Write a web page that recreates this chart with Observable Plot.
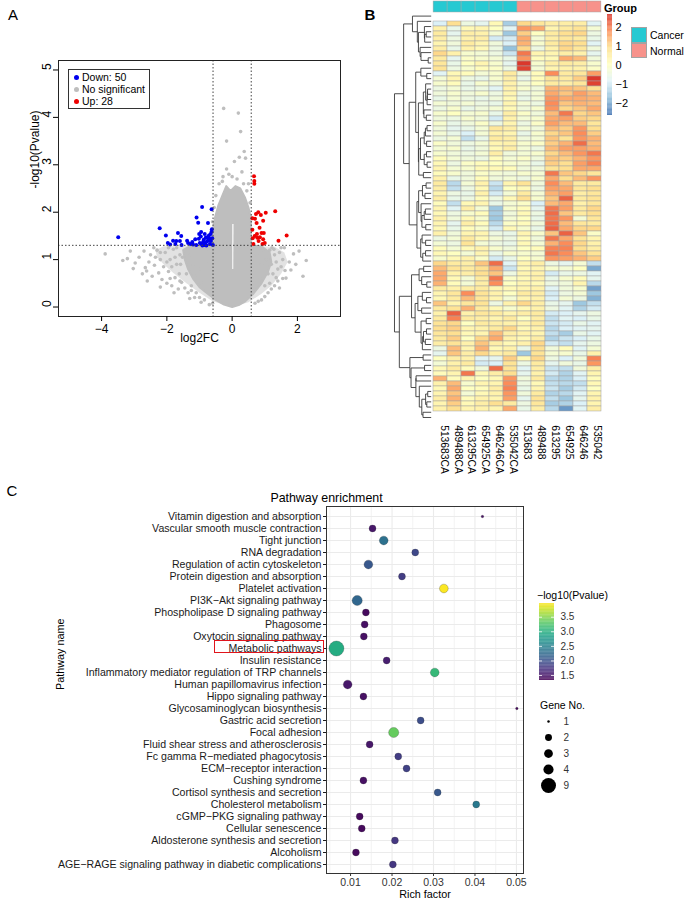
<!DOCTYPE html>
<html><head><meta charset="utf-8">
<script src="https://cdn.jsdelivr.net/npm/d3@7"></script>
<script src="https://cdn.jsdelivr.net/npm/@observablehq/plot@0.6"></script>
<style>
body{margin:0;background:#fff;}
#root{position:relative;width:685px;height:907px;font-family:"Liberation Sans",Arial,Helvetica,sans-serif;overflow:hidden;background:#fff;color:#000;}
.t{position:absolute;white-space:nowrap;line-height:1;}
</style></head><body><div id="root"></div>
<script>
// ---------------- DATA ----------------
// Panel A: volcano
const fcCut = [-0.585, 0.585];
const pCut = [1.301];
const xTicksA = [-4, -2, 0, 2];
const yTicksA = [0, 1, 2, 3, 4, 5];
const downPts = [[-3.49,1.47],[-2.22,1.66],[-2.03,1.51],[-1.97,1.35],[-1.81,1.40],[-1.74,1.33],[-1.66,1.56],[-1.60,1.39],[-1.56,1.50],[-1.38,1.40],[-1.28,1.33],[-1.22,1.37],[-1.13,1.43],[-1.09,1.89],[-1.04,1.78],[-1.01,1.54],[-0.96,1.49],[-0.92,2.11],[-0.89,1.37],[-0.85,1.31],[-0.81,1.46],[-0.77,1.38],[-0.74,1.77],[-0.71,1.51],[-0.68,1.33],[-0.63,2.06],[-0.62,1.64],[-0.61,1.45],[-0.59,1.31],[-1.02,1.44],[-0.94,1.33],[-0.87,1.42],[-0.79,1.30],[-0.73,1.41],[-0.66,1.54],[-0.63,1.59],[-0.99,1.35],[-0.84,1.54],[-0.76,1.47],[-0.69,1.44],[-0.91,1.30],[-0.82,1.35],[-0.95,1.58],[-0.65,1.39],[-1.10,1.31],[-1.20,1.32],[-1.55,1.31],[-1.71,1.39],[-1.90,1.32],[-1.35,1.35]];
const upPts = [[0.67,2.76],[0.68,2.66],[0.68,2.60],[1.32,2.02],[1.03,1.99],[0.80,2.00],[0.73,1.96],[0.88,1.94],[0.62,1.87],[0.70,1.86],[0.95,1.82],[0.75,1.77],[0.84,1.67],[0.62,1.63],[0.76,1.54],[0.90,1.56],[0.97,1.56],[1.67,1.51],[0.63,1.45],[0.77,1.46],[0.85,1.47],[0.95,1.43],[1.42,1.40],[0.65,1.33],[0.93,1.33],[1.00,1.35],[0.81,1.39],[0.69,1.50]];
const wingOutline = [[0,0],[-0.6,0.12],[-1.0,0.3],[-1.4,0.5],[-1.8,0.72],[-2.1,0.9],[-2.3,1.05],[-2.35,1.2],[-2.1,1.28],[-0.6,1.29],[0.6,1.29],[1.3,1.27],[1.6,1.15],[1.7,0.95],[1.5,0.7],[1.2,0.45],[0.9,0.28],[0.5,0.1],[0,0]];
const coreOutline = [[0.0,0.0],[-0.25,0.05],[-0.5,0.15],[-0.75,0.28],[-1.0,0.42],[-1.2,0.6],[-1.35,0.8],[-1.45,1.0],[-1.5,1.2],[-1.3,1.28],[-0.62,1.29],[-0.6,1.6],[-0.52,1.9],[-0.42,2.15],[-0.3,2.35],[-0.18,2.55],[-0.05,2.45],[0.1,2.55],[0.25,2.5],[0.4,2.3],[0.5,2.1],[0.57,1.9],[0.58,1.3],[0.9,1.28],[1.15,1.15],[1.2,0.95],[1.1,0.75],[0.9,0.5],[0.65,0.28],[0.4,0.12],[0.2,0.04],[0.0,0.0]];
const coreGap = [[0.0,0.8],[0.035,0.8],[0.045,1.75],[0.0,1.75]];
const grayPts = [[-3.89,1.12],[-3.35,0.98],[-3.21,1.02],[-3.12,1.18],[-2.97,0.93],[-3.03,0.81],[-2.66,0.83],[-2.62,0.76],[-2.55,0.95],[-2.5,1.1],[-2.45,0.65],[-2.38,0.88],[-2.3,1.2],[-2.25,0.72],[-2.2,1.0],[-2.15,0.58],[-2.1,0.85],[-2.05,1.15],[-2.0,0.5],[-1.95,0.75],[-1.9,1.0],[-1.85,0.45],[-1.8,1.22],[-1.75,0.62],[-1.7,0.9],[-1.65,0.38],[-1.6,1.1],[-1.55,0.52],[-1.62,0.7],[-1.78,0.3],[-2.2,0.42],[-2.6,0.55],[-2.75,0.7],[-2.85,1.05],[-1.45,0.4],[-1.35,0.3],[-1.25,0.45],[-1.1,0.3],[-1.0,0.2],[-0.85,0.15],[-1.9,0.6],[-2.35,1.05],[-1.7,1.25],[-1.95,1.25],[-2.4,1.25],[-2.7,1.18],[-1.58,0.9],[-1.52,1.05],[-1.15,0.2],[-1.3,0.18],[-0.95,0.1],[-0.7,0.05],[-0.6,0.08],
[-1.2,0.9],[-1.3,1.1],[-1.1,1.2],[-0.9,1.15],[-1.4,0.7],[-1.6,0.55],[-1.15,0.65],[-0.95,0.5],[-0.8,0.35],[-2.0,0.95],[-1.85,0.85],[-2.2,1.15],[-1.75,1.05],[-1.45,1.2],[-1.25,0.35],[-0.75,0.9],[-0.8,1.2],[-1.0,0.8],
[1.88,1.12],[2.27,0.98],[2.17,0.65],[1.65,0.61],[1.62,0.77],[1.55,1.0],[1.5,0.85],[1.45,1.15],[1.4,0.55],[1.35,0.95],[1.3,0.45],[1.28,1.22],[1.25,0.7],[1.3,1.1],[1.2,0.38],[1.1,0.3],[1.0,0.22],[0.9,0.15],[0.8,0.12],[0.7,0.08],[1.75,0.95],[1.95,0.9],[1.8,0.78],[1.45,0.4],[1.6,1.25],[1.5,1.25],[1.22,1.25],[2.05,1.18],[1.15,0.5],[1.35,0.62],
[0.75,1.1],[0.9,0.9],[1.05,1.0],[1.1,0.7],[0.85,0.6],[0.95,1.2],[1.2,0.9],[1.4,0.8],[1.55,0.6],[0.7,0.45],[1.0,0.45],[1.15,1.2],
[-0.26,4.19],[0.19,4.09],[0.26,3.70],[-0.17,3.50],[0.37,3.28],[0.22,3.16],[0.41,3.14],[0.07,3.07],[-0.17,2.91],[-0.28,2.75],[0.3,2.85],[0.5,2.6],[-0.4,2.6],[0.45,2.45],[-0.5,2.35],[0.0,2.75],[0.15,2.7],[-0.1,2.8],[0.55,2.2],[-0.55,2.1],[0.35,2.6],[-0.3,2.65],[-0.6,1.8],[0.55,1.9]];
const volcanoLegend = [{label:"Down:  50", color:"#0000EE"},{label:"No significant", color:"#BEBEBE"},{label:"Up:  28", color:"#EE0000"}];

// Panel B: heatmap
const samples = ["513683CA","489488CA","613295CA","654925CA","646246CA","535042CA","513683","489488","613295","654925","646246","535042"];
const groups = ["Cancer","Cancer","Cancer","Cancer","Cancer","Cancer","Normal","Normal","Normal","Normal","Normal","Normal"];
const groupLevels = ["Cancer","Normal"];
const groupColors = ["#26C9D2","#F7928B"];
const heatTicks = [2, 1, 0, -1, -2];
const heatRange = [-2.63, 2.68];
const rdylbu = ["#4575B4","#91BFDB","#E0F3F8","#FFFFBF","#FEE090","#FC8D59","#D73027"];
const heatRows = [
[-0.9,0.9,-0.5,-0.7,0.2,-1.5,1.0,0.7,0.5,0.5,0.5,-0.8],
[0.4,-0.6,0.2,0.3,0.0,-0.8,1.7,1.5,0.3,0.6,0.8,-0.3],
[0.6,-0.7,0.5,0.4,-0.3,-1.6,1.1,0.0,0.6,0.9,1.0,-0.5],
[0.5,-0.5,0.4,0.5,-1.0,-1.0,1.5,-0.3,0.5,0.7,0.6,-0.6],
[0.3,-0.4,0.6,0.3,-0.4,-0.9,1.4,-0.2,0.6,1.0,0.9,-0.8],
[0.5,-0.6,0.4,0.2,-0.5,-1.7,1.0,-0.5,0.4,1.0,0.7,-0.4],
[1.0,0.4,-0.2,-0.3,-0.5,-1.1,2.0,0.3,0.3,0.5,0.4,-0.7],
[0.6,-0.7,-0.1,-0.2,-0.3,-0.6,1.7,0.1,0.2,1.5,1.3,-0.4],
[0.7,-0.6,0.0,0.3,-0.2,-0.7,2.6,-0.2,0.5,0.6,0.5,-0.2],
[0.8,-0.5,-0.2,0.1,-0.1,-0.5,2.5,-0.3,0.3,0.4,0.4,-0.1],
[-0.8,0.2,0.1,-0.3,-0.2,0.6,-0.4,0.1,1.8,0.6,0.7,1.6],
[-0.3,0.3,-0.5,-0.6,-0.2,0.5,-0.6,0.1,0.8,0.6,1.1,2.6],
[-0.2,0.1,-0.6,-0.2,-0.4,0.4,-0.3,0.0,0.6,0.5,0.7,2.5],
[-0.5,-0.3,-0.6,-0.5,-0.8,0.4,-0.2,-0.4,1.4,1.3,1.2,0.9],
[-0.4,-0.2,-0.4,-0.2,-0.5,0.3,-0.5,-0.3,1.5,1.2,1.6,1.3],
[-0.6,-0.3,-0.5,-0.6,-0.4,0.2,-0.6,-0.3,1.7,1.5,1.5,1.4],
[-0.3,-0.4,-0.3,-0.5,-0.6,0.3,-0.3,-0.5,1.8,1.2,1.4,1.3],
[-0.5,-0.2,-0.6,-0.4,-0.3,0.2,-0.4,-0.2,1.7,1.0,1.2,1.5],
[-0.2,0.0,-0.3,-0.2,-0.6,0.5,-0.1,-0.4,1.3,2.0,1.0,1.2],
[-0.4,-0.5,-0.2,-0.4,-1.0,0.4,-0.3,-0.2,1.5,1.6,1.1,1.0],
[-0.2,-0.6,-0.4,-0.1,-0.5,0.3,-0.5,-0.1,1.6,1.3,1.3,0.7],
[-0.4,-0.7,-0.6,-0.3,0.7,0.5,-0.3,-0.4,1.3,1.1,1.7,0.9],
[-0.3,-0.6,-0.9,-0.3,0.4,0.3,-0.6,-0.2,1.0,1.2,1.8,1.1],
[-0.5,-0.3,-1.2,-0.6,0.6,0.5,-0.4,-0.3,1.2,0.8,1.7,1.4],
[-0.1,-0.4,-0.5,-0.3,0.3,0.4,-0.2,-0.1,1.1,1.4,2.1,1.3],
[-0.3,-0.2,-0.6,-0.4,0.2,0.5,-0.3,-0.5,1.3,1.6,1.6,1.4],
[-0.2,-0.4,-0.5,-0.3,0.5,-0.4,-0.3,-0.2,1.0,1.3,1.7,2.0],
[0.1,-0.3,-0.4,-0.5,0.1,-0.3,-0.1,-0.4,1.2,1.1,1.4,1.7],
[0.2,-0.5,-0.1,0.1,0.0,-0.2,-0.3,-0.6,1.1,0.9,1.6,1.9],
[0.3,-0.3,-0.2,0.2,0.2,0.1,-0.4,-0.4,0.8,0.9,1.5,1.5],
[0.1,-0.2,-0.4,-0.1,-0.3,-0.4,-0.2,-0.3,2.0,1.2,1.0,0.7],
[0.4,-0.6,-0.4,0.1,-0.4,-0.3,-0.5,-0.2,1.5,0.9,1.3,1.7],
[0.6,-1.3,-0.3,0.4,-1.1,0.3,0.8,-0.4,1.8,1.3,0.6,0.6],
[0.5,-1.2,-0.5,0.2,-1.3,0.0,0.2,-0.5,1.6,1.5,0.7,0.9],
[0.3,-0.5,-0.6,0.4,-1.0,-0.3,0.6,-0.3,1.4,1.6,0.5,0.7],
[0.5,-0.6,-0.5,0.1,-0.5,0.2,0.9,-0.2,1.2,2.2,0.6,0.8],
[0.1,-1.2,0.2,0.3,-0.6,-0.3,-0.1,-0.9,1.3,1.5,0.4,0.7],
[0.3,-0.8,0.5,-0.3,-1.6,-0.2,0.1,-0.7,2.0,1.6,0.6,1.0],
[0.2,-0.5,-0.2,0.1,-1.5,-0.4,0.2,-0.5,2.1,1.2,0.6,0.9],
[0.4,-0.4,0.2,-0.2,-1.6,-0.3,0.0,-0.6,2.0,1.7,-0.3,0.7],
[0.3,-0.7,0.5,0.1,-1.3,-0.1,0.1,-0.4,2.1,1.3,0.7,0.6],
[0.2,-0.6,0.1,-0.2,-1.0,0.2,-0.2,-0.6,2.2,1.5,1.0,1.0],
[0.4,-0.4,0.3,0.3,-0.5,-0.6,0.3,-0.2,1.2,2.2,1.2,-0.1],
[-0.5,-0.3,0.6,0.2,-0.3,-0.5,0.1,-0.4,2.0,1.5,0.8,0.3],
[-0.3,-0.5,0.8,-0.3,-0.5,-0.6,0.2,-0.3,1.4,1.8,1.0,0.4],
[0.1,-0.3,0.2,0.4,-0.2,-0.4,0.0,0.1,1.9,1.9,0.9,0.5],
[0.2,0.0,-0.3,0.3,-0.6,-0.2,-0.2,-0.3,2.0,1.8,1.2,0.8],
[-0.2,0.2,0.4,-0.1,-1.0,-0.6,0.0,-0.2,1.7,1.6,1.4,1.1],
[1.0,0.6,0.5,1.2,2.1,-0.8,0.3,0.5,-0.5,-0.7,-0.3,-1.2],
[1.3,0.8,0.6,0.9,1.5,-1.1,0.2,0.3,-0.2,-0.3,0.0,-2.0],
[1.5,0.4,0.5,0.9,1.2,-0.5,0.3,0.4,-1.0,-0.6,-0.5,-0.8],
[1.5,0.2,-0.3,0.6,2.0,-0.1,0.2,0.4,-0.6,-0.2,0.1,-0.7],
[1.4,0.1,-0.3,0.5,1.8,0.0,0.3,0.2,-0.5,-0.4,0.3,-1.3],
[0.6,0.4,0.5,0.6,0.3,0.2,0.3,0.4,-0.8,-0.4,-0.2,-2.1],
[0.3,0.7,1.8,0.8,0.4,0.0,0.6,0.5,-1.0,-0.5,-0.3,-1.6],
[0.2,0.6,1.3,0.7,0.3,-0.3,0.3,0.4,-0.9,-0.3,-0.5,-1.9],
[1.2,0.3,0.7,0.8,-0.5,0.4,1.0,0.5,-0.6,-0.7,-1.6,-1.2],
[0.6,0.8,1.4,0.6,0.2,-0.2,0.2,0.4,-0.5,-0.8,-1.4,-1.0],
[0.4,2.2,0.4,0.7,0.6,0.3,0.5,0.6,-1.0,-0.9,-0.7,-0.5],
[0.6,1.9,0.6,0.5,0.3,0.6,0.0,0.5,-1.2,-0.8,-0.9,-0.6],
[0.8,1.0,0.0,0.6,0.5,0.4,0.3,0.6,-1.1,-1.0,-0.6,-0.8],
[0.9,1.1,0.3,0.4,0.6,1.0,0.2,0.4,-1.3,-0.9,-0.8,-0.7],
[0.7,0.9,0.2,0.3,1.3,0.5,0.4,0.3,-1.2,-1.5,-0.6,-0.8],
[0.6,1.1,0.0,1.0,1.5,0.4,0.2,0.5,-1.4,-1.1,-0.9,-0.6],
[0.5,0.8,0.4,1.2,0.5,0.2,0.4,1.0,-1.0,-1.2,-0.7,-0.5],
[-0.5,1.3,0.3,1.4,0.2,0.4,-0.6,0.9,-0.4,0.1,-0.8,-0.3],
[-0.7,1.2,0.5,1.0,0.4,0.6,-1.6,0.8,-0.3,-0.2,-0.6,0.4],
[0.0,0.5,0.4,-0.8,-0.7,1.1,0.2,1.0,-0.5,-0.9,-0.4,1.9],
[-0.3,0.4,0.6,-1.0,-0.9,0.8,-0.5,0.6,-0.7,-0.4,-0.6,1.7],
[0.2,0.6,0.1,-0.4,2.1,0.8,-0.8,0.5,-1.1,-1.2,-0.4,0.5],
[0.1,0.3,2.0,0.2,0.5,0.9,-0.7,0.4,-1.0,-1.4,-0.8,0.3],
[1.4,0.1,0.3,0.0,0.2,1.7,-0.4,0.6,-1.3,-1.4,-0.9,0.1],
[0.4,1.3,-0.2,0.3,0.3,1.8,-0.5,0.2,-1.2,-1.3,-1.2,0.2],
[0.2,1.5,0.0,0.1,0.5,1.9,-0.6,0.3,-1.1,-1.5,-1.0,0.0],
[0.3,1.2,-0.3,0.2,0.4,1.7,-0.4,0.6,-1.4,-1.3,-0.8,0.3],
[0.5,1.4,0.1,0.4,0.3,1.6,-0.7,0.8,-1.2,-1.6,-0.7,0.4],
[0.3,1.1,0.2,0.5,0.9,0.6,-0.5,0.7,-1.5,-1.4,-0.9,0.3],
[0.4,0.9,0.3,0.4,0.3,1.5,-0.6,0.5,-1.3,-2.2,-0.8,0.5]
];

// Panel C: pathway enrichment
const pathways = ["Vitamin digestion and absorption","Vascular smooth muscle contraction","Tight junction","RNA degradation","Regulation of actin cytoskeleton","Protein digestion and absorption","Platelet activation","PI3K\u2212Akt signaling pathway","Phospholipase D signaling pathway","Phagosome","Oxytocin signaling pathway","Metabolic pathways","Insulin resistance","Inflammatory mediator regulation of TRP channels","Human papillomavirus infection","Hippo signaling pathway","Glycosaminoglycan biosynthesis","Gastric acid secretion","Focal adhesion","Fluid shear stress and atherosclerosis","Fc gamma R\u2212mediated phagocytosis","ECM\u2212receptor interaction","Cushing syndrome","Cortisol synthesis and secretion","Cholesterol metabolism","cGMP\u2212PKG signaling pathway","Cellular senescence","Aldosterone synthesis and secretion","Alcoholism","AGE\u2212RAGE signaling pathway in diabetic complications"];
const richFactor = [0.0418,0.0153,0.0180,0.0256,0.0143,0.0224,0.0325,0.0116,0.0137,0.0134,0.0132,0.0066,0.0187,0.0303,0.0093,0.0131,0.0501,0.0269,0.0204,0.0146,0.0215,0.0235,0.0131,0.0310,0.0403,0.0122,0.0127,0.0207,0.0113,0.0202];
const logP = [1.45,1.5,2.3,1.9,2.05,1.8,3.95,2.2,1.4,1.45,1.45,2.95,1.55,3.1,1.5,1.45,1.4,1.95,3.35,1.5,1.8,1.85,1.45,2.05,2.4,1.4,1.4,1.75,1.4,1.75];
const geneNo = [1,2,3,2,3,2,3,4,2,2,2,9,2,3,3,2,1,2,4,2,2,2,2,2,2,2,2,2,2,2];
const xTicksC = [0.01,0.02,0.03,0.04,0.05];
const xMinorC = [0.005,0.015,0.025,0.035,0.045];
const pTicks = [3.5,3.0,2.5,2.0,1.5];
const pRange = [1.33, 3.97];
const geneLegend = [1,2,3,4,9];
const highlighted = "Metabolic pathways";

// ---------------- LAYOUT ----------------
const FONT = '"Liberation Sans", Arial, Helvetica, sans-serif';
const root = document.getElementById("root");
function place(node, left, top) {
  node.style.position = "absolute"; node.style.left = left + "px"; node.style.top = top + "px";
  root.appendChild(node); return node;
}
function text(str, left, cy, size, opts = {}) {
  const d = document.createElement("div");
  d.className = "t"; d.textContent = str;
  d.style.fontSize = size + "px";
  d.style.left = left + "px"; d.style.top = cy + "px";
  d.style.transform = opts.center ? "translate(-50%,-50%)" : "translateY(-50%)";
  if (opts.bold) d.style.fontWeight = "bold";
  if (opts.color) d.style.color = opts.color;
  root.appendChild(d); return d;
}
function box(left, top, w, h, css) {
  const d = document.createElement("div");
  d.style.position = "absolute"; d.style.left = left + "px"; d.style.top = top + "px";
  d.style.width = w + "px"; d.style.height = h + "px"; d.style.boxSizing = "border-box";
  Object.assign(d.style, css); root.appendChild(d); return d;
}
const baseStyle = {fontFamily: FONT, background: "transparent", overflow: "visible", color: "#000"};

// Panel letters
text("A", 13, 14, 15, {center: true});
text("B", 370, 14, 15, {center: true, bold: true});
text("C", 12, 490, 15, {center: true});

// ---------- Panel A ----------
const P = d => d;
const volcano = Plot.plot({
  width: 345, height: 345, marginLeft: 58, marginRight: 5, marginTop: 60, marginBottom: 29,
  style: {...baseStyle, fontSize: "12px"},
  x: {domain: [-5.32, 3.32]},
  y: {domain: [-0.2, 5.2]},
  marks: [
    Plot.line(wingOutline, {x: d => d[0], y: d => d[1], fill: "#BEBEBE", fillOpacity: 0.45, stroke: "none"}),
    Plot.line(coreOutline, {x: d => d[0], y: d => d[1], fill: "#BEBEBE", stroke: "#BEBEBE", strokeWidth: 2}),
    Plot.line(coreGap, {x: d => d[0], y: d => d[1], fill: "#f4f4f4", stroke: "none"}),
    Plot.dot(grayPts, {x: d => d[0], y: d => d[1], r: 1.8, fill: "#BEBEBE"}),
    Plot.dot(downPts, {x: d => d[0], y: d => d[1], r: 2, fill: "#0000EE"}),
    Plot.dot(upPts, {x: d => d[0], y: d => d[1], r: 2, fill: "#EE0000"}),
    Plot.ruleX(fcCut, {stroke: "#444", strokeDasharray: "1.5,2", strokeWidth: 1}),
    Plot.ruleY(pCut, {stroke: "#444", strokeDasharray: "1.5,2", strokeWidth: 1}),
    Plot.frame({stroke: "#222"}),
    Plot.axisX({ticks: xTicksA, tickSize: 5, tickPadding: 3, label: null, fontSize: 12}),
    Plot.axisY({ticks: yTicksA, tickSize: 5, tickFormat: () => "", label: null}),
    Plot.text(yTicksA, {y: P, text: d => String(d), frameAnchor: "left", dx: -11, rotate: -90, fontSize: 12}),
    Plot.text(["-log10(Pvalue)"], {text: P, frameAnchor: "left", dx: -23, rotate: -90, fontSize: 12}),
    Plot.text(["log2FC"], {text: P, frameAnchor: "bottom", dy: 25, fontSize: 12})
  ]
});
place(volcano, 0, 0);

// volcano legend
box(68, 69, 82, 40, {border: "1px solid #333", background: "#fff"});
volcanoLegend.forEach((e, i) => {
  const cy = 77 + i * 12;
  box(73.5, cy - 2.5, 5, 5, {borderRadius: "50%", background: e.color});
  text(e.label, 82, cy, 10.5);
});

// ---------- Panel B ----------
const nRows = heatRows.length;
const cells = [];
heatRows.forEach((row, i) => row.forEach((v, j) => cells.push({r: i, s: samples[j], v})));
const heatStops = d3.range(7).map(k => heatRange[0] + k * (heatRange[1] - heatRange[0]) / 6);
const heatColor = {type: "linear", domain: heatStops, range: rdylbu, interpolate: "rgb", clamp: true};

const heatTop = 13.3, heatBottom = 420, heatLeft = 430.7, heatW = 171.3;
const heat = Plot.plot({
  width: heatW, height: (heatBottom - heatTop) + 60,
  marginLeft: 0, marginRight: 0, marginTop: 0, marginBottom: 60,
  style: {...baseStyle, fontSize: "10px"},
  x: {type: "band", domain: samples, padding: 0, axis: null},
  y: {type: "band", domain: d3.range(nRows), padding: 0, axis: null},
  color: heatColor,
  marks: [
    Plot.cell(cells, {x: "s", y: "r", fill: "v", stroke: "#a3a3a3", strokeWidth: 0.5, inset: 0}),
    Plot.text(samples, {x: P, text: P, frameAnchor: "bottom", dy: 5, rotate: 90, textAnchor: "start", fontSize: 10.3})
  ]
});
place(heat, heatLeft, heatTop);

// group annotation bar
const groupData = samples.map((s, j) => ({s, g: groups[j]}));
const gbar = Plot.plot({
  width: heatW, height: 11, margin: 0,
  style: baseStyle,
  x: {type: "band", domain: samples, padding: 0, axis: null},
  color: {domain: groupLevels, range: groupColors},
  marks: [Plot.cell(groupData, {x: "s", fill: "g", stroke: "#a3a3a3", strokeWidth: 0.5, inset: 0})]
});
place(gbar, heatLeft, 1);

// dendrogram (complete linkage, order-preserving, computed from the matrix)
function dendro(mat) {
  const D = mat.map(a => mat.map(b => Math.sqrt(d3.sum(a, (v, k) => (v - b[k]) ** 2))));
  let cl = mat.map((_, i) => ({m: [i], h: 0, y: i + 0.5}));
  const segs = [];
  while (cl.length > 1) {
    let best = Infinity, bi = 0;
    for (let i = 0; i < cl.length - 1; i++) {
      const d = d3.max(cl[i].m, a => d3.max(cl[i + 1].m, b => D[a][b]));
      if (d < best) { best = d; bi = i; }
    }
    const A = cl[bi], B = cl[bi + 1];
    segs.push({x1: A.h, y1: A.y, x2: best, y2: A.y}, {x1: B.h, y1: B.y, x2: best, y2: B.y}, {x1: best, y1: A.y, x2: best, y2: B.y});
    cl.splice(bi, 2, {m: A.m.concat(B.m), h: best, y: (A.y + B.y) / 2});
  }
  return {segs, rootH: cl[0].h};
}
const tree = dendro(heatRows);
const dend = Plot.plot({
  width: heatLeft - 380, height: heatBottom - heatTop,
  marginLeft: 14, marginRight: 0, marginTop: 0, marginBottom: 0,
  style: baseStyle,
  x: {domain: [tree.rootH, 0], axis: null},
  y: {domain: [0, nRows], reverse: true, axis: null},
  marks: [Plot.link(tree.segs, {x1: "x1", y1: "y1", x2: "x2", y2: "y2", stroke: "#3a3a3a", strokeWidth: 0.9})]
});
place(dend, 380, heatTop);

// heatmap colour legend
const heatSlices = d3.range(heatRange[0], heatRange[1], (heatRange[1] - heatRange[0]) / 120);
const heatStep = (heatRange[1] - heatRange[0]) / 120;
const heatLeg = Plot.plot({
  width: 30, height: 101, marginLeft: 0, marginRight: 25, marginTop: 0, marginBottom: 0,
  style: {...baseStyle, fontSize: "11px"},
  x: {domain: [0, 1], axis: null},
  y: {domain: heatRange, axis: null},
  color: heatColor,
  marks: [
    Plot.rect(heatSlices, {x1: 0, x2: 1, y1: P, y2: d => Math.min(d + heatStep * 1.05, heatRange[1]), fill: P}),
    Plot.text(heatTicks, {y: P, text: d => d < 0 ? "\u2212" + (-d) : String(d), frameAnchor: "right", textAnchor: "start", dx: 3, fontSize: 11})
  ]
});
place(heatLeg, 607, 14);

text("Group", 604, 7.5, 11, {bold: true});
groupLevels.forEach((g, i) => {
  box(631, 27 + i * 15.5, 16, 15.5, {background: groupColors[i], border: "0.5px solid #a3a3a3"});
  text(g, 650, 34.5 + i * 16, 10.5);
});

// ---------- Panel C ----------
const enrich = pathways.map((name, i) => ({name, rich: richFactor[i], p: logP[i], n: geneNo[i]}));
const rScale = {type: "sqrt", domain: [0, 8], range: [1.25, 7.5]};
const bubble = Plot.plot({
  width: 685, height: 427, marginLeft: 326, marginRight: 162, marginTop: 26, marginBottom: 34,
  style: {...baseStyle, fontSize: "10.6px"},
  x: {domain: [0.0042, 0.0517]},
  y: {type: "point", domain: pathways, padding: 0.6},
  color: {type: "linear", scheme: "viridis", domain: pRange},
  r: rScale,
  marks: [
    Plot.ruleX(xMinorC, {x: P, stroke: "#EBEBEB", strokeWidth: 0.6}),
    Plot.ruleX(xTicksC, {x: P, stroke: "#EBEBEB", strokeWidth: 1.1}),
    Plot.ruleY(pathways, {y: P, stroke: "#EBEBEB", strokeWidth: 1.1}),
    Plot.dot(enrich, {x: "rich", y: "name", r: d => d.n - 1, fill: "p", stroke: "#222", strokeWidth: 0.4, strokeOpacity: 0.6}),
    Plot.frame({stroke: "#333", strokeWidth: 1}),
    Plot.axisX({ticks: xTicksC, tickFormat: d3.format(".2f"), tickSize: 3, tickPadding: 2, label: null, fontSize: 10.5, color: "#333"}),
    Plot.axisY({tickSize: 3, tickPadding: 2, label: null, fontSize: 10.6, color: "#1a1a1a"}),
    Plot.text(["Rich factor"], {text: P, frameAnchor: "bottom", dy: 24, fontSize: 10.8}),
    Plot.text(["Pathway name"], {text: P, frameAnchor: "left", dx: -266, rotate: -90, fontSize: 10.8}),
    Plot.text(["Pathway enrichment"], {text: P, frameAnchor: "top-left", dy: -13, textAnchor: "middle", fontSize: 12.4})
  ]
});
place(bubble, 0, 480);

// highlight box
{
  const i = pathways.indexOf(highlighted);
  const cy = 506 + (i + 0.6) * ((873 - 506) / (pathways.length - 1 + 1.2));
  box(214, cy - 6.5, 110, 13, {border: "1.3px solid #E0141C"});
}

// p-value colour bar legend
text("\u2212log10(Pvalue)", 537, 595, 10.5);
const pSlices = d3.range(pRange[0], pRange[1], (pRange[1] - pRange[0]) / 100);
const pStep = (pRange[1] - pRange[0]) / 100;
const pLeg = Plot.plot({
  width: 40, height: 77, marginLeft: 0, marginRight: 25, marginTop: 0, marginBottom: 0,
  style: {...baseStyle, fontSize: "10px"},
  x: {domain: [0, 15], axis: null},
  y: {domain: pRange, axis: null},
  color: {type: "linear", scheme: "viridis", domain: pRange},
  marks: [
    Plot.rect(pSlices, {x1: 0, x2: 15, y1: P, y2: d => Math.min(d + pStep * 1.05, pRange[1]), fill: P}),
    Plot.ruleY(pTicks, {y: P, x1: 0, x2: 3, stroke: "#fff", strokeWidth: 0.8}),
    Plot.ruleY(pTicks, {y: P, x1: 12, x2: 15, stroke: "#fff", strokeWidth: 0.8}),
    Plot.text(pTicks, {y: P, text: d => d.toFixed(1), frameAnchor: "right", textAnchor: "start", dx: 6, fontSize: 10, fill: "#333"})
  ]
});
place(pLeg, 539, 603);

// gene number legend
text("Gene No.", 540, 705, 10.5);
const gLeg = Plot.plot({
  width: 40, height: 80, margin: 0, marginRight: 25,
  style: {...baseStyle, fontSize: "10px"},
  x: {domain: [0, 15], axis: null},
  y: {type: "point", domain: geneLegend, padding: 0.5, axis: null},
  r: rScale,
  marks: [
    Plot.dot(geneLegend, {x: 8, y: P, r: d => d - 1, fill: "#000"}),
    Plot.text(geneLegend, {y: P, text: d => String(d), frameAnchor: "right", textAnchor: "start", dx: 8, fontSize: 10, fill: "#333"})
  ]
});
place(gLeg, 540, 713);
</script></body></html>
